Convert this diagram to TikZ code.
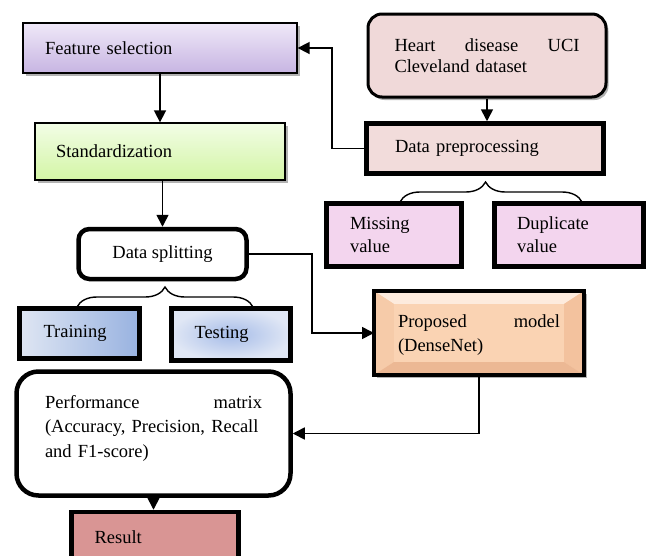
\documentclass[tikz,border=0pt]{standalone}
\usepackage{fontspec}
\setmainfont{Liberation Serif}
\usetikzlibrary{arrows.meta,shadows,decorations.pathreplacing,calc}
\definecolor{fsT}{HTML}{EFE8F8}
\definecolor{fsB}{HTML}{C7B5E2}
\definecolor{stT}{HTML}{F2FDE6}
\definecolor{stB}{HTML}{D3F5A5}
\definecolor{trL}{HTML}{DFE6F3}
\definecolor{trR}{HTML}{98B2E0}
\definecolor{teI}{HTML}{A6BCE8}
\definecolor{teO}{HTML}{E0E7F5}
\definecolor{hdF}{HTML}{F0D9D9}
\definecolor{dpF}{HTML}{F2DCDB}
\definecolor{mvF}{HTML}{F3D5EE}
\definecolor{prF}{HTML}{FAD3B3}
\definecolor{prT}{HTML}{FDEBDD}
\definecolor{prL}{HTML}{F6CBA9}
\definecolor{prR}{HTML}{F3C29E}
\definecolor{prB}{HTML}{ECB894}
\definecolor{resF}{HTML}{D99594}
\begin{document}
\begin{tikzpicture}[x=1pt,y=-1pt,
  base/.style={draw=black, font=\fontsize{18.5}{23}\selectfont, inner ysep=0pt, align=left},
  tbox/.style={base, line width=1.3pt},
  Tbox/.style={base, line width=4.5pt},
  arr/.style={line width=1.6pt, -{Triangle[length=12pt,width=12pt]}},
  brc/.style={line width=1.4pt, decorate, decoration={brace, amplitude=20pt}},
  shad/.style={drop shadow={shadow xshift=2.5pt, shadow yshift=-3pt, opacity=0.3, fill=black}}
]
\clip (0,0) rectangle (648,555);
\fill[white] (0,0) rectangle (648,555);

% left column
\node[tbox, shad, top color=fsT, bottom color=fsB, minimum width=274pt, minimum height=50pt,
      text width=230pt, inner xsep=22pt] (fs) at (160,48) {Feature selection};
\node[tbox, shad, top color=stT, bottom color=stB, minimum width=250pt, minimum height=57pt,
      text width=208pt, inner xsep=21pt] (std) at (160,151.5) {Standardization};
\node[Tbox, fill=white, rounded corners=11pt, minimum width=168pt, minimum height=50pt,
      align=center] (ds) at (162.5,254) {Data splitting};
\node[Tbox, left color=trL, right color=trR, minimum width=120pt, minimum height=50pt,
      text width=72pt, inner xsep=24pt] (tr) at (79.5,333.5) {Training};
\node[Tbox, inner color=teI, outer color=teO, minimum width=119pt, minimum height=52pt,
      text width=73pt, inner xsep=23pt] (te) at (231,334.5) {Testing};
\node[Tbox, fill=white, rounded corners=22pt, minimum width=274pt, minimum height=124pt] (pm) at (153.5,433.5) {};
\node[font=\fontsize{18.5}{24.5}\selectfont, text width=217pt, align=left, inner sep=0pt] (pmt) at (153.5,428)
  {Performance\hfill matrix\\(Accuracy, Precision, Recall\\and F1-score)};
\node[Tbox, fill=resF, minimum width=167pt, minimum height=50pt,
      text width=121pt, inner xsep=23pt] (res) at (155,537) {Result};

% right column
\node[base, line width=3pt, shad, fill=hdF, rounded corners=14pt, minimum width=238pt, minimum height=83pt,
      text width=185pt, inner xsep=26.5pt, font=\fontsize{18.5}{21.5}\selectfont] (hd) at (487,55.5)
  {Heart\hfill disease\hfill UCI\\Cleveland dataset};
\node[Tbox, fill=dpF, minimum width=237pt, minimum height=50pt,
      text width=180pt, inner xsep=28.5pt] (dp) at (485,148.5) {Data preprocessing};
\node[Tbox, fill=mvF, minimum width=135pt, minimum height=63pt,
      text width=88pt, inner xsep=23.5pt] (mv) at (394,235) {Missing\\value};
\node[Tbox, fill=mvF, minimum width=149pt, minimum height=63pt,
      text width=104pt, inner xsep=22.5pt] (dv) at (569,235) {Duplicate\\value};

% proposed model with bevel
\node[Tbox, shad, fill=prF, outer sep=0pt, minimum width=210pt, minimum height=84pt] (pr) at (479,333) {};
\fill[prT] (pr.north west) -- (pr.north east) -- ($(pr.north east)+(-20,13)$) -- ($(pr.north west)+(20,13)$) -- cycle;
\fill[prL] (pr.north west) -- ($(pr.north west)+(20,13)$) -- ($(pr.south west)+(20,-13)$) -- (pr.south west) -- cycle;
\fill[prR] (pr.north east) -- ($(pr.north east)+(-20,13)$) -- ($(pr.south east)+(-20,-13)$) -- (pr.south east) -- cycle;
\fill[prB] (pr.south west) -- ($(pr.south west)+(20,-13)$) -- ($(pr.south east)+(-20,-13)$) -- (pr.south east) -- cycle;
\fill[prF] ($(pr.north west)+(20,13)$) rectangle ($(pr.south east)+(-20,-13)$);
\draw[line width=4.5pt] (pr.north west) rectangle (pr.south east);
\node[font=\fontsize{18.5}{24}\selectfont, text width=162pt, align=left, inner sep=0pt] (prt) at (479,335)
  {Proposed\hfill model\\(DenseNet)};

% braces
\coordinate (b1l) at (77,307);
\coordinate (b1r) at (253,307);
\draw[brc] (b1l) -- (b1r);
\coordinate (b2l) at (400,202);
\coordinate (b2r) at (582,202);
\draw[brc, decoration={aspect=0.47}] (b2l) -- (b2r);

% connectors
\draw[arr] (dp.west) -- ++(-32,0) |- (fs.east);
\draw[arr] (fs.south) -- (std.north);
\draw[arr] (ds.north |- std.south) -- (ds.north);
\draw[arr] (hd.south) -- (hd.south |- dp.north);
\draw[arr] (ds.east) -- ++(63,0) |- (pr.west);
\draw[arr] (pr.south) |- (pm.east);
\draw[arr] (pm.south) -- (pm.south |- res.north);
\end{tikzpicture}
\end{document}
